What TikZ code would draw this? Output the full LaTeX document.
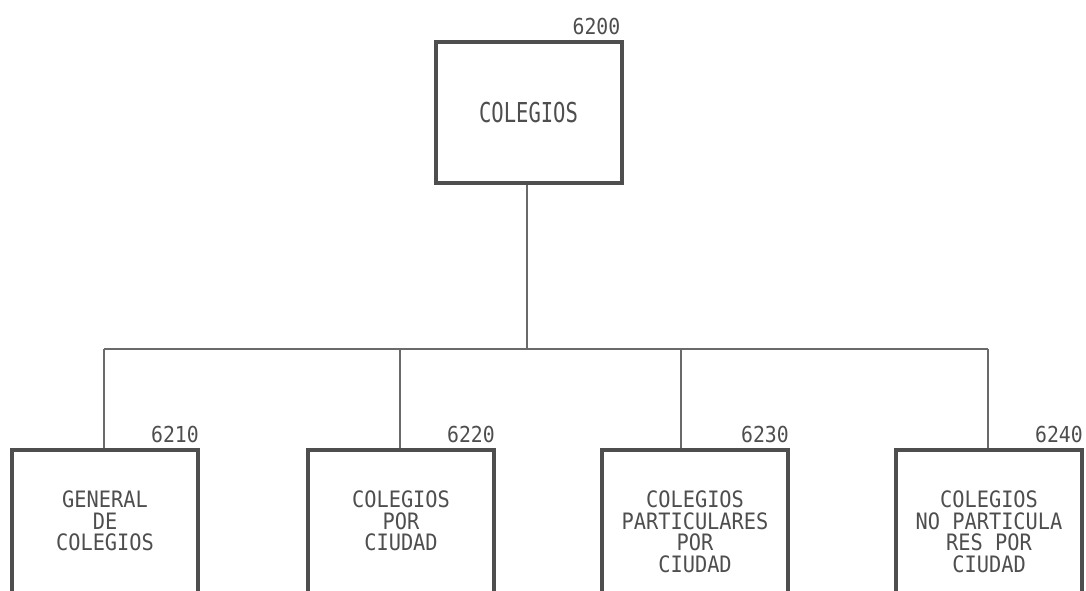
\documentclass[tikz,border=0pt]{standalone}
\usepackage{fontspec}
\usepackage{tikz}
\newfontfamily\plotfont[FakeStretch=0.9]{DejaVu Sans Mono}
\newfontfamily\plottall[FakeStretch=0.75]{DejaVu Sans Mono}
\definecolor{ink}{HTML}{4E4E4E}
\definecolor{wire}{HTML}{6A6A6A}
\tikzstyle{unit}=[draw=ink,line width=4pt,text=ink,minimum width=186pt,align=center]
\tikzstyle{child}=[unit,anchor=north,inner ysep=41pt,text depth=110pt,font=\plotfont\fontsize{22.6}{21.5}\selectfont]
\tikzstyle{code}=[text=ink,anchor=south east,inner xsep=1pt,inner ysep=5pt,font=\plotfont\fontsize{22}{22}\selectfont]
\tikzstyle{link}=[draw=wire,line width=1.7pt]

\begin{document}
\begin{tikzpicture}[x=1pt,y=-1pt]
                  \useasboundingbox (0,0) rectangle (1086,590);
                  \clip (0,0) rectangle (1086,590);

                  \node (c0) at (528.5,112.5) [unit,minimum height=141pt,font=\plottall\fontsize{27.4}{27}\selectfont,
                                              label={[code,xshift=-2pt]north east:6200}] {COLEGIOS};

                  \node (c1) at (105,448) [child,label={[code]north east:6210}] {GENERAL\\DE\\COLEGIOS};
                  \node (c2) at (401,448) [child,label={[code]north east:6220}] {COLEGIOS\\POR\\CIUDAD};
                  \node (c3) at (695,448) [child,label={[code]north east:6230}] {COLEGIOS\\PARTICULARES\\POR\\CIUDAD};
                  \node (c4) at (989,448) [child,label={[code]north east:6240}] {COLEGIOS\\NO PARTICULA\\RES POR\\CIUDAD};

                  \coordinate (hub) at (527,349);
                  \coordinate (j1) at (104,349);
                  \coordinate (j2) at (400,349);
                  \coordinate (j3) at (681,349);
                  \coordinate (j4) at (988,349);

                  \draw [link] (c0.south -| hub) -- (hub);
                  \draw [link] (j1) -- (j4);
                  \draw [link] (j1) -- (j1 |- c1.north);
                  \draw [link] (j2) -- (j2 |- c2.north);
                  \draw [link] (j3) -- (j3 |- c3.north);
                  \draw [link] (j4) -- (j4 |- c4.north);
              \end{tikzpicture}
\end{document}
